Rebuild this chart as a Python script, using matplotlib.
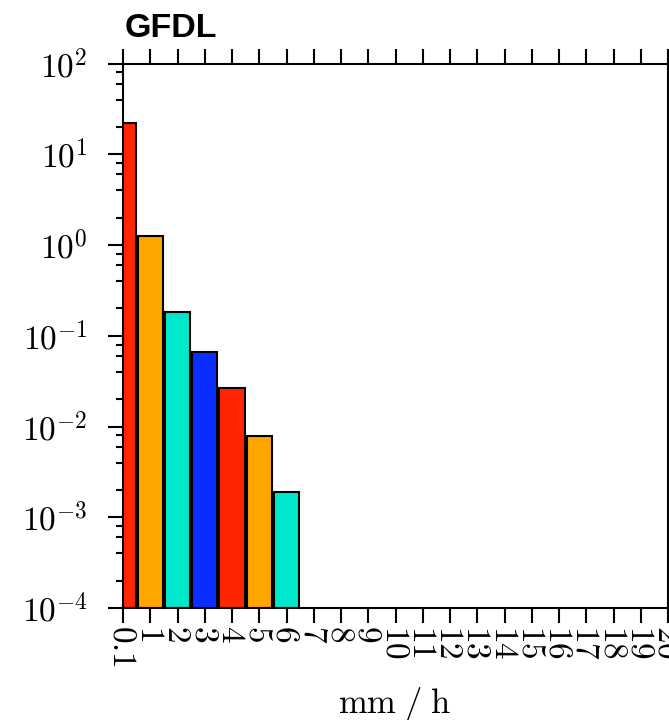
import numpy as np
import matplotlib
matplotlib.use('Agg')
import matplotlib.pyplot as plt
from matplotlib.ticker import LogLocator, FixedLocator, NullFormatter

plt.rcParams['mathtext.fontset'] = 'cm'

# data (frequency per rain-rate bin)
bins = ['0.1', '1', '2', '3', '4', '5', '6', '7', '8', '9', '10',
        '11', '12', '13', '14', '15', '16', '17', '18', '19', '20']
freq = [22.1, 1.26, 0.182, 0.0659, 0.0262, 0.00767, 0.00181]
colors = ['#FF2600', '#FFA500', '#00E8CC', '#0A2EFF']
ydecades = [-4, -3, -2, -1, 0, 1, 2]

fig = plt.figure(figsize=(6.69, 7.2), dpi=100)
ax = fig.add_axes([123 / 669, 112 / 720, 545 / 669, 544.5 / 720])

x = np.arange(len(freq))
bar_colors = [colors[i % len(colors)] for i in range(len(freq))]
ax.bar(x, freq, width=0.92, color=bar_colors, edgecolor='black',
       linewidth=1.5, bottom=1e-4, zorder=2)

ax.set_yscale('log')
ax.set_ylim(1e-4, 1e2)
ax.set_xlim(0, 20)

ax.xaxis.set_major_locator(FixedLocator(np.arange(len(bins))))
ax.set_xticklabels(['$' + b + '$' for b in bins], rotation=-90,
                   fontsize=24, va='top', ha='center')
ax.set_yticks([10.0 ** d for d in ydecades])
ax.set_yticklabels(['$10^{%d}$' % d for d in ydecades], fontsize=24)
ax.yaxis.set_minor_locator(LogLocator(base=10, subs=[2, 4, 6, 8], numticks=10))
ax.yaxis.set_minor_formatter(NullFormatter())

ax.tick_params(axis='x', which='major', direction='out', length=10.5,
               width=1.5, top=True, pad=2)
ax.tick_params(axis='y', which='major', direction='out', length=10.5,
               width=1.5, pad=15)
ax.tick_params(axis='y', which='minor', direction='out', length=5, width=1.5)
for s in ax.spines.values():
    s.set_linewidth(1.5)

fig.text(394 / 669, 1 - 713 / 720, r'$\mathrm{mm\;/\;h}$', fontsize=25,
         va='baseline', ha='center')

fig.text(125 / 669, (720 - 37) / 720, 'GFDL', fontsize=24.5,
         fontweight='bold', family='Liberation Sans', va='baseline', ha='left')

fig.savefig('out.png', dpi=100)
